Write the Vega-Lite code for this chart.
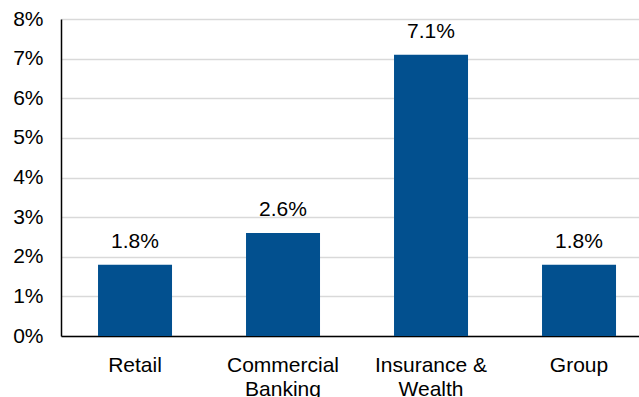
{
  "$schema": "https://vega.github.io/schema/vega-lite/v6.json",
  "width": 578,
  "height": 317,
  "autosize": {"type": "none"},
  "padding": {"left": 61, "top": 19, "right": 0, "bottom": 61},
  "background": "white",
  "config": {
    "view": {"stroke": null},
    "font": "Liberation Sans",
    "text": {"font": "Liberation Sans"}
  },
  "data": {
    "values": [
      {"segment": "Retail", "value": 0.018, "label": "1.8%"},
      {"segment": "Commercial Banking", "value": 0.026, "label": "2.6%"},
      {"segment": "Insurance & Wealth", "value": 0.071, "label": "7.1%"},
      {"segment": "Group", "value": 0.018, "label": "1.8%"}
    ]
  },
  "encoding": {
    "x": {
      "field": "segment",
      "type": "nominal",
      "sort": null,
      "scale": {"paddingInner": 0.5, "paddingOuter": 0.2027, "align": 0.617},
      "axis": {
        "title": null,
        "labelAngle": 0,
        "labelFontSize": 21,
        "labelColor": "#000000",
        "labelFont": "Liberation Sans",
        "labelPadding": 18,
        "ticks": false,
        "domainColor": "#000000",
        "domainWidth": 1.5,
        "labelExpr": "datum.label == 'Commercial Banking' ? ['Commercial', 'Banking'] : datum.label == 'Insurance & Wealth' ? ['Insurance &', 'Wealth'] : datum.label",
        "labelLineHeight": 24
      }
    },
    "y": {
      "field": "value",
      "type": "quantitative",
      "scale": {"domain": [0, 0.08], "nice": false},
      "axis": {
        "title": null,
        "format": ".0%",
        "values": [0, 0.01, 0.02, 0.03, 0.04, 0.05, 0.06, 0.07, 0.08],
        "labelFontSize": 21,
        "labelColor": "#000000",
        "labelFont": "Liberation Sans",
        "labelPadding": 18,
        "ticks": false,
        "domainColor": "#000000",
        "domainWidth": 1.5,
        "grid": true,
        "gridColor": "#d9d9d9",
        "gridWidth": 1.5
      }
    }
  },
  "layer": [
    {"mark": {"type": "bar", "color": "#02508F"}},
    {
      "mark": {"type": "text", "baseline": "alphabetic", "dy": -17, "fontSize": 21, "color": "#000000", "font": "Liberation Sans"},
      "encoding": {"text": {"field": "label"}}
    }
  ]
}
